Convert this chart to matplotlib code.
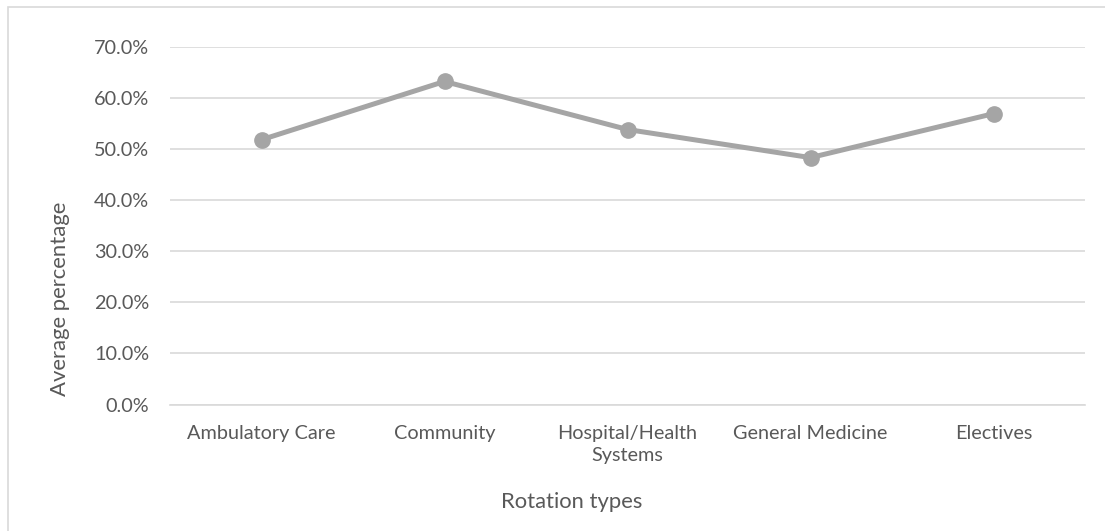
import matplotlib
matplotlib.use("Agg")
import matplotlib.pyplot as plt
from matplotlib.ticker import FuncFormatter, MultipleLocator
from matplotlib.patches import Rectangle

# Data
categories = ["Ambulatory Care", "Community", "Hospital/Health\nSystems",
              "General Medicine", "Electives"]
avg_pct = [51.8, 63.2, 53.8, 48.3, 56.9]

plt.rcParams['font.family'] = ['Lato', 'DejaVu Sans']
TEXT = "#595959"
GRID = "#D9D9D9"
LINE = "#A5A5A5"

W, H, DPI = 1105, 531, 100
fig = plt.figure(figsize=(W / DPI, H / DPI), dpi=DPI)
ax = fig.add_axes([170 / W, 1 - 404.5 / H, (1085 - 170) / W, (404.5 - 46.7) / H])

x = list(range(len(categories)))
ax.plot(x, avg_pct, color=LINE, linewidth=3.6, marker='o', markersize=11,
        markerfacecolor=LINE, markeredgecolor=LINE, solid_capstyle='round', zorder=3)

ax.set_xlim(-0.5, len(categories) - 0.5)
ax.set_ylim(0, 70)
ax.yaxis.set_major_locator(MultipleLocator(10))
ax.yaxis.set_major_formatter(FuncFormatter(lambda v, p: f"{v:.1f}%"))
ax.set_xticks(x)
ax.set_xticklabels(categories, linespacing=1.4)

ax.grid(axis='y', color=GRID, linewidth=1.2)
ax.set_axisbelow(True)
for s in ['top', 'right', 'left']:
    ax.spines[s].set_visible(False)
ax.spines['bottom'].set_color(GRID)
ax.spines['bottom'].set_linewidth(1.2)

ax.tick_params(axis='both', length=0, colors=TEXT, labelsize=14.3)
ax.tick_params(axis='y', pad=15)
ax.tick_params(axis='x', pad=14.5)

fig.text(60 / W, 1 - 299 / H, "Average percentage", rotation=90, ha='center',
         va='center', color=TEXT, fontsize=15.9)
fig.text(572 / W, 1 - 502 / H, "Rotation types", ha='center', va='center',
         color=TEXT, fontsize=15.8)

# Chart-area frame
fig.patches.append(Rectangle((7.5 / W, -0.1), 1.2, 1 - 6.5 / H + 0.1,
                             transform=fig.transFigure, fill=False,
                             edgecolor=GRID, linewidth=1.2))

fig.savefig("out.png", dpi=DPI, facecolor='white')
